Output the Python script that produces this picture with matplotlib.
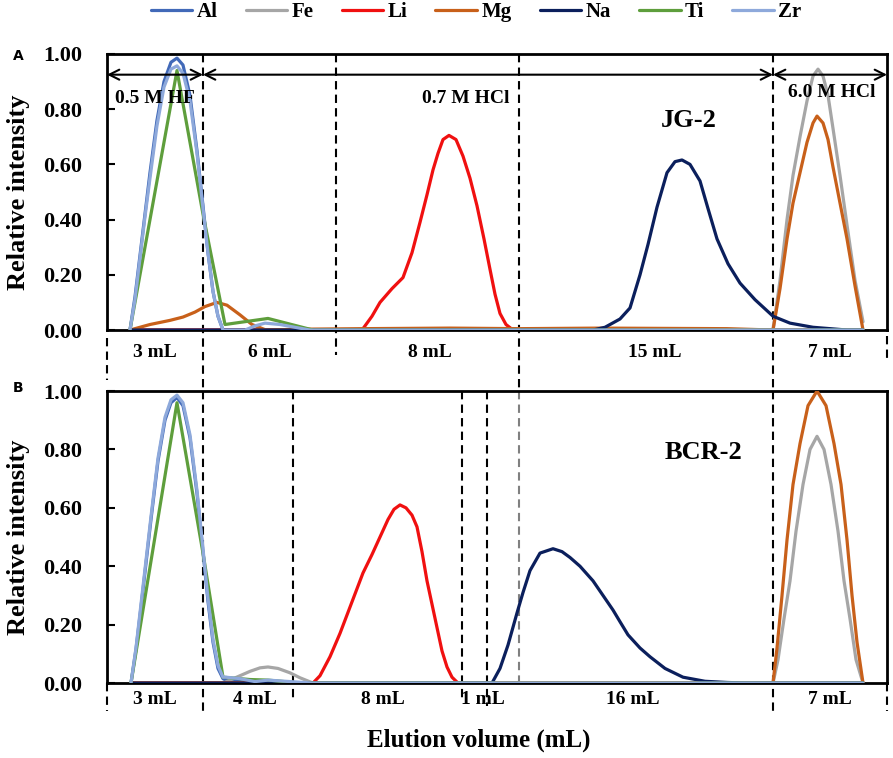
import matplotlib
matplotlib.use("Agg")
import matplotlib.pyplot as plt

plt.rcParams['font.family'] = ['Liberation Serif', 'DejaVu Serif']
plt.rcParams['font.weight'] = 'bold'

# elution position (arbitrary units along the axis, 0..780)
elements = ["Al", "Fe", "Li", "Mg", "Na", "Ti", "Zr"]
colors = {"Al": "#4169B8", "Fe": "#A6A6A6", "Li": "#F01010", "Mg": "#C8601A",
          "Na": "#0B1F5C", "Ti": "#5E9E3C", "Zr": "#8EA9DB"}

# ---- JG-2 (panel A)
al_a_x = [23, 28, 33, 38, 43, 50, 57, 64, 70, 76, 83, 90, 96, 101, 106, 111, 116, 756]
al_a_y = [0, 0.12, 0.27, 0.42, 0.57, 0.76, 0.90, 0.97, 0.985, 0.96, 0.85, 0.65, 0.45, 0.28, 0.14, 0.05, 0.0, 0.0]
fe_a_x = [23, 666, 673, 680, 686, 693, 700, 706, 711, 716, 721, 726, 733, 740, 748, 756]
fe_a_y = [0, 0, 0.18, 0.40, 0.56, 0.70, 0.83, 0.92, 0.945, 0.92, 0.85, 0.73, 0.56, 0.38, 0.18, 0.03]
li_a_x = [23, 255, 265, 273, 285, 296, 305, 313, 320, 326, 331, 336, 342, 349, 356, 363, 370, 377,
          383, 388, 393, 399, 406, 756]
li_a_y = [0, 0, 0.05, 0.10, 0.15, 0.19, 0.28, 0.39, 0.49, 0.58, 0.64, 0.69, 0.705, 0.69, 0.63, 0.55,
          0.45, 0.33, 0.22, 0.13, 0.06, 0.02, 0.0, 0.0]
mg_a_x = [23, 43, 63, 76, 88, 98, 110, 120, 133, 145, 159, 193, 255, 343, 413, 493, 620, 666, 673,
          680, 686, 693, 700, 706, 710, 716, 721, 726, 733, 740, 748, 756]
mg_a_y = [0, 0.02, 0.035, 0.047, 0.065, 0.085, 0.10, 0.09, 0.055, 0.02, 0.0, 0.003, 0.005, 0.007,
          0.005, 0.007, 0.005, 0.0, 0.15, 0.33, 0.46, 0.57, 0.68, 0.75, 0.775, 0.75, 0.69, 0.59,
          0.46, 0.33, 0.16, 0.0]
na_a_x = [23, 486, 498, 513, 523, 533, 541, 550, 560, 568, 575, 583, 593, 601, 610, 621, 633, 648,
          666, 683, 706, 740, 756]
na_a_y = [0, 0, 0.01, 0.04, 0.08, 0.20, 0.31, 0.445, 0.57, 0.61, 0.616, 0.60, 0.54, 0.44, 0.33,
          0.24, 0.17, 0.11, 0.05, 0.025, 0.01, 0.0, 0.0]
ti_a_x = [23, 70, 96, 118, 161, 206, 756]
ti_a_y = [0, 0.94, 0.42, 0.02, 0.042, 0.0, 0.0]
zr_a_x = [23, 28, 33, 38, 43, 50, 57, 64, 70, 76, 83, 90, 96, 101, 106, 111, 116, 138, 148, 158,
          173, 188, 203, 756]
zr_a_y = [0, 0.11, 0.26, 0.41, 0.55, 0.74, 0.88, 0.945, 0.957, 0.93, 0.83, 0.64, 0.44, 0.28, 0.14,
          0.05, 0.0, 0.0, 0.015, 0.025, 0.02, 0.01, 0.0, 0.0]

# ---- BCR-2 (panel B)
zr_b_x = [24, 29, 34, 39, 44, 51, 58, 64, 70, 76, 83, 90, 96, 101, 106, 111, 116, 119, 133, 148,
          161, 183, 206, 756]
zr_b_y = [0, 0.12, 0.27, 0.42, 0.57, 0.77, 0.91, 0.97, 0.986, 0.96, 0.85, 0.66, 0.46, 0.29, 0.15,
          0.06, 0.02, 0.02, 0.015, 0.005, 0.01, 0.005, 0.0, 0.0]
al_b_x = zr_b_x
al_b_y = [0, 0.115, 0.26, 0.41, 0.56, 0.76, 0.90, 0.96, 0.978, 0.95, 0.84, 0.65, 0.45, 0.28, 0.14,
          0.05, 0.015, 0.01, 0.005, 0, 0, 0, 0, 0]
fe_b_x = [24, 116, 123, 133, 143, 153, 161, 171, 183, 193, 206, 666, 671, 677, 683, 689, 696, 703,
          710, 717, 724, 731, 737, 743, 749, 756]
fe_b_y = [0, 0, 0.01, 0.025, 0.04, 0.052, 0.055, 0.05, 0.035, 0.018, 0.0, 0.0, 0.08, 0.22, 0.35,
          0.52, 0.68, 0.80, 0.845, 0.80, 0.68, 0.52, 0.35, 0.22, 0.08, 0.0]
li_b_x = [24, 206, 213, 223, 233, 243, 256, 265, 273, 281, 287, 293, 299, 305, 310, 315, 320, 325,
          330, 335, 340, 345, 351, 756]
li_b_y = [0, 0, 0.025, 0.09, 0.17, 0.26, 0.377, 0.44, 0.50, 0.56, 0.595, 0.61, 0.60, 0.575, 0.535,
          0.45, 0.35, 0.27, 0.19, 0.11, 0.055, 0.02, 0.0, 0.0]
mg_b_x = [24, 666, 670, 675, 680, 686, 693, 701, 710, 719, 727, 734, 740, 745, 750, 756]
mg_b_y = [0, 0, 0.12, 0.30, 0.49, 0.68, 0.82, 0.95, 1.0, 0.95, 0.82, 0.68, 0.49, 0.30, 0.14, 0.0]
na_b_x = [24, 385, 393, 401, 410, 416, 423, 433, 446, 455, 463, 473, 486, 496, 506, 513, 521, 533,
          543, 558, 576, 598, 620, 638, 756]
na_b_y = [0, 0, 0.05, 0.13, 0.24, 0.31, 0.385, 0.445, 0.46, 0.45, 0.43, 0.40, 0.35, 0.30, 0.25,
          0.21, 0.165, 0.12, 0.09, 0.05, 0.02, 0.006, 0.002, 0.0, 0.0]
ti_b_x = [24, 70, 96, 116, 143, 161, 193, 756]
ti_b_y = [0, 0.96, 0.445, 0.02, 0.012, 0.01, 0.0, 0.0]

series_a = {"Al": (al_a_x, al_a_y), "Fe": (fe_a_x, fe_a_y), "Li": (li_a_x, li_a_y),
            "Mg": (mg_a_x, mg_a_y), "Na": (na_a_x, na_a_y), "Ti": (ti_a_x, ti_a_y),
            "Zr": (zr_a_x, zr_a_y)}
series_b = {"Al": (al_b_x, al_b_y), "Fe": (fe_b_x, fe_b_y), "Li": (li_b_x, li_b_y),
            "Mg": (mg_b_x, mg_b_y), "Na": (na_b_x, na_b_y), "Ti": (ti_b_x, ti_b_y),
            "Zr": (zr_b_x, zr_b_y)}

# segment labels (center position, text)
seg_a = [(48, "3 mL"), (163, "6 mL"), (323, "8 mL"), (548, "15 mL"), (723, "7 mL")]
seg_b = [(48, "3 mL"), (148, "4 mL"), (276, "8 mL"), (376, "1 mL"), (526, "16 mL"), (723, "7 mL")]

fig = plt.figure(figsize=(8.93, 7.58), dpi=100)
ax_a = fig.add_axes([0.1198, 0.5646, 0.8735, 0.3642])
ax_b = fig.add_axes([0.1198, 0.0989, 0.8735, 0.3852])

lines = []
for ax, series in [(ax_a, series_a), (ax_b, series_b)]:
    for el in elements:
        x, y = series[el]
        ln, = ax.plot(x, y, color=colors[el], lw=2.3, label=el, zorder=3,
                      solid_joinstyle='round', solid_capstyle='round')
        if ax is ax_a:
            lines.append(ln)
    ax.set_xlim(0, 780)
    ax.set_ylim(0, 1.0)
    ax.set_xticks([])
    ax.set_yticks([0, 0.2, 0.4, 0.6, 0.8, 1.0])
    ax.set_yticklabels(["0.00", "0.20", "0.40", "0.60", "0.80", "1.00"])
    ax.tick_params(axis='y', direction='in', length=6, width=1.5, labelsize=16, pad=18)
    for lab in ax.get_yticklabels():
        lab.set_fontweight('bold')
    for sp in ax.spines.values():
        sp.set_linewidth(2)
    ax.set_ylabel("Relative intensity", fontsize=19, fontweight='bold')
    ax.yaxis.set_label_coords(-0.099, 0.5)

dash = (0, (4, 2.5))


def vline(ax, x, y0, y1, color='black'):
    ax.plot([x, x], [y0, y1], color=color, lw=1.5, ls=dash, clip_on=False, zorder=2)


# panel A boundaries
vline(ax_a, 96, 1.0, -0.221)
vline(ax_a, 229, 1.0, -0.09)
vline(ax_a, 412, 1.0, -0.221)
vline(ax_a, 666, 1.0, -0.221)
vline(ax_a, 0, -0.03, -0.18)
vline(ax_a, 780, -0.02, -0.10)
# panel B boundaries
vline(ax_b, 96, 1.0, -0.095)
vline(ax_b, 186, 1.0, -0.065)
vline(ax_b, 355, 1.0, -0.055)
vline(ax_b, 380, 1.0, -0.08)
vline(ax_b, 412, 1.0, 0.0, color='#808080')
vline(ax_b, 666, 1.0, -0.095)
vline(ax_b, 0, 0.0, -0.095)
vline(ax_b, 780, 0.0, -0.095)

for xc, t in seg_a:
    ax_a.text(xc, -0.08, t, ha='center', va='center', fontsize=14, fontweight='bold')
for xc, t in seg_b:
    ax_b.text(xc, -0.055, t, ha='center', va='center', fontsize=14, fontweight='bold')

# eluent arrows
arrow_y = 0.925
for x0, x1 in [(0, 96), (96, 666), (666, 780)]:
    ax_a.annotate("", xy=(x1, arrow_y), xytext=(x0, arrow_y),
                  arrowprops=dict(arrowstyle='<->', color='black', lw=1.5,
                                  shrinkA=0, shrinkB=0, mutation_scale=18))
ax_a.text(48, 0.84, "0.5 M HF", ha='center', va='center', fontsize=14, fontweight='bold')
ax_a.text(359, 0.84, "0.7 M HCl", ha='center', va='center', fontsize=14, fontweight='bold')
ax_a.text(725, 0.86, "6.0 M HCl", ha='center', va='center', fontsize=14, fontweight='bold')
ax_a.text(582, 0.76, "JG-2", ha='center', va='center', fontsize=19, fontweight='bold')
ax_b.text(596, 0.79, "BCR-2", ha='center', va='center', fontsize=19, fontweight='bold')

fig.text(18 / 893, 1 - 56 / 758, "A", family='DejaVu Sans', fontsize=10, fontweight='bold',
         ha='center', va='center')
fig.text(18 / 893, 1 - 388 / 758, "B", family='DejaVu Sans', fontsize=10, fontweight='bold',
         ha='center', va='center')

ax_b.set_xlabel("Elution volume (mL)", fontsize=18, fontweight='bold')
ax_b.xaxis.set_label_coords(0.477, -0.155)

fig.legend(handles=lines, labels=elements, loc='center', bbox_to_anchor=(0.533, 0.984),
           ncol=7, frameon=False, handlelength=2.0, handletextpad=0.2,
           columnspacing=1.35, prop={'weight': 'bold', 'size': 15})

fig.savefig("out.png", dpi=100)
